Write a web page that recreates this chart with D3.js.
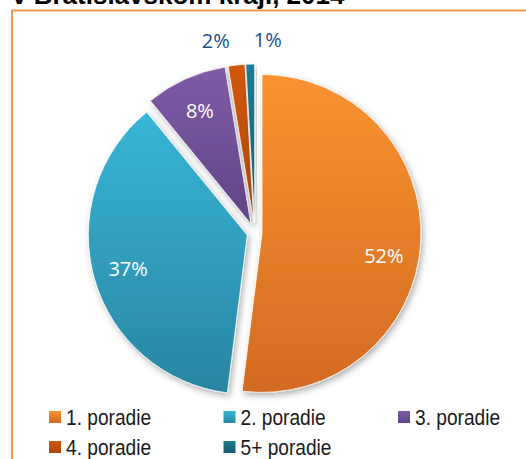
<!DOCTYPE html>
<html>
<head>
<meta charset="utf-8">
<script src="https://cdn.jsdelivr.net/npm/d3@7"></script>
<style>
  html, body { margin: 0; padding: 0; background: #fff; }
  svg { display: block; }
</style>
</head>
<body>
<svg id="chart"></svg>
<script>
// data
const categories = ["1. poradie", "2. poradie", "3. poradie", "4. poradie", "5+ poradie"];
const shares = [52.0, 37.1, 8.3, 1.7, 0.9];
const titleText = "v Bratislavskom kraji, 2014";

// styling
const topColors = ["#f99331", "#38b5d6", "#7f5ca7", "#d2590e", "#1f7c92"];
const bottomColors = ["#d26b22", "#2986a2", "#604487", "#a9470a", "#165d6f"];
const explode = [7, 8, 10, 10, 10];
const labelTurn = [7, 0, 0, 0, 0];   // degrees, nudges the big label like excel did

const w = 526, h = 459;
const cx = 255, cy = 233, radius = 159;

var svg = d3.select("#chart")
    .attr("width", w)
    .attr("height", h)
    .attr("viewBox", "0 0 " + w + " " + h);

var defs = svg.append("defs");

// soft shadow under slices
var shadow = defs.append("filter")
    .attr("id", "shadow")
    .attr("x", "-20%").attr("y", "-20%")
    .attr("width", "140%").attr("height", "140%");
shadow.append("feDropShadow")
    .attr("dx", 2).attr("dy", 3)
    .attr("stdDeviation", 3)
    .attr("flood-color", "#000")
    .attr("flood-opacity", 0.3);

categories.forEach(function (c, i) {
    var g = defs.append("linearGradient")
        .attr("id", "grad" + i)
        .attr("x1", 0).attr("y1", 0)
        .attr("x2", 0).attr("y2", 1);
    g.append("stop").attr("offset", "0%").attr("stop-color", topColors[i]);
    g.append("stop").attr("offset", "100%").attr("stop-color", bottomColors[i]);
});

// frame of the chart area (runs off the right and bottom)
svg.append("rect")
    .attr("x", 12).attr("y", 10.5)
    .attr("width", w + 20).attr("height", h + 20)
    .attr("fill", "none")
    .attr("stroke", "#f79646")
    .attr("stroke-width", 2);

// title, cut off at the top in the reference
svg.append("text")
    .attr("x", 12)
    .attr("y", 4)
    .attr("font-family", "Liberation Sans, Arial, sans-serif")
    .attr("font-weight", "bold")
    .attr("font-size", "26px")
    .attr("fill", "#000")
    .text(titleText);

var pie = d3.pie().sort(null).value(d => d);
var arcs = pie(shares);
var arc = d3.arc().innerRadius(0).outerRadius(radius);

var pieG = svg.append("g").attr("transform", "translate(" + cx + "," + cy + ")");

function midAngle(d) { return (d.startAngle + d.endAngle) / 2; }

pieG.selectAll("path.slice")
    .data(arcs)
    .join("path")
    .attr("class", "slice")
    .attr("transform", function (d, i) {
        var a = midAngle(d);
        return "translate(" + (explode[i] * Math.sin(a)) + "," + (-explode[i] * Math.cos(a)) + ")";
    })
    .attr("d", arc)
    .attr("fill", (d, i) => "url(#grad" + i + ")")
    .attr("stroke", "#fff")
    .attr("stroke-width", 0.8)
    .attr("filter", "url(#shadow)");

// labels: big slices inside in white, tiny ones above in dark blue
var inside = [], outside = [];
arcs.forEach(function (d, i) {
    var a = midAngle(d);
    var txt = Math.round(d.value) + "%";
    if (d.endAngle - d.startAngle > 0.25) {
        var aa = a + labelTurn[i] * Math.PI / 180;
        var rr = radius * 0.78;
        inside.push({
            x: explode[i] * Math.sin(a) + rr * Math.sin(aa),
            y: -explode[i] * Math.cos(a) - rr * Math.cos(aa),
            t: txt
        });
    } else {
        var ro = radius + 34;
        outside.push({ x: ro * Math.sin(a), y: -ro * Math.cos(a), t: txt });
    }
});

// push the outside labels apart so they do not overlap
outside.sort((a, b) => a.x - b.x);
var minGap = 52;
for (var k = 1; k < outside.length; k++) {
    var gap = outside[k].x - outside[k - 1].x;
    if (gap < minGap) {
        var push = (minGap - gap) / 2;
        outside[k - 1].x -= push;
        outside[k].x += push;
    }
}

function drawLabels(list, color) {
    pieG.selectAll(null)
        .data(list)
        .join("text")
        .attr("x", d => d.x)
        .attr("y", d => d.y)
        .attr("dy", "0.35em")
        .attr("text-anchor", "middle")
        .attr("font-family", "Open Sans, Noto Sans, sans-serif")
        .attr("font-size", "20px")
        .attr("fill", color)
        .text(d => d.t);
}
drawLabels(inside, "#ffffff");
drawLabels(outside, "#254e86");

// legend, three columns
var legendX = d3.scalePoint().domain([0, 1, 2]).range([49, 398]);
var legendY = d3.scalePoint().domain([0, 1]).range([411, 441]);

var legend = svg.selectAll("g.legend")
    .data(categories)
    .join("g")
    .attr("class", "legend")
    .attr("transform", (d, i) => "translate(" + legendX(i % 3) + "," + legendY(Math.floor(i / 3)) + ")");

legend.append("rect")
    .attr("width", 12).attr("height", 12)
    .attr("fill", (d, i) => "url(#grad" + i + ")");

// the original legend font is a narrow one, so squeeze a regular sans
legend.append("text")
    .attr("transform", "translate(17,6) scale(0.87,1)")
    .attr("dy", "0.36em")
    .attr("font-family", "Liberation Sans, Arial, sans-serif")
    .attr("font-size", "22px")
    .attr("fill", "#1a1a1a")
    .text(d => d);
</script>
</body>
</html>
